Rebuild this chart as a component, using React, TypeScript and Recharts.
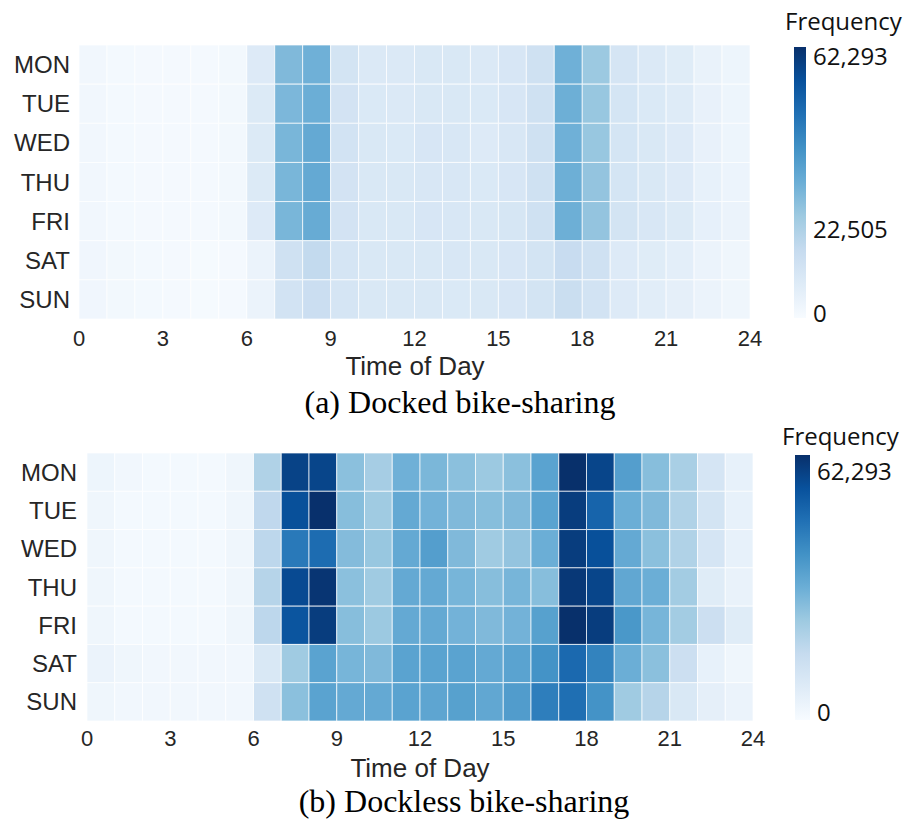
import React from "react";
import {
  ScatterChart,
  XAxis,
  YAxis,
  ReferenceArea,
  BarChart,
  Bar,
} from "recharts";

// rows top to bottom
const DAYS = ["MON", "TUE", "WED", "THU", "FRI", "SAT", "SUN"];
const HOUR_TICKS = [0, 3, 6, 9, 12, 15, 18, 21, 24];
const V_MAX = 62293;

// trips per hour (0..23), docked bike-sharing
const docked: number[][] = [
  [1900, 1200, 900, 900, 900, 1600, 8100, 28000, 30500, 11200, 8700, 8700, 9300, 9300, 8700, 10000, 12500, 30500, 23700, 10600, 8700, 7500, 4400, 3100],
  [1800, 1200, 900, 900, 900, 1600, 8300, 28600, 31200, 11500, 9000, 8700, 9300, 9300, 9000, 10000, 12800, 30800, 24300, 10900, 9000, 7800, 4700, 3100],
  [1800, 1200, 900, 900, 900, 1600, 8300, 29000, 32400, 11800, 9300, 9000, 10000, 9600, 8100, 9600, 12800, 30500, 24300, 10900, 9300, 8100, 4700, 3100],
  [1800, 1200, 900, 900, 900, 1600, 8300, 29000, 32400, 11500, 9300, 9300, 9600, 9600, 9000, 10000, 12500, 30800, 24900, 10900, 9300, 8100, 5000, 3400],
  [1900, 1200, 900, 900, 900, 1600, 8100, 29000, 32000, 11500, 9300, 9300, 10000, 9600, 9300, 10300, 12800, 30800, 24900, 11200, 9600, 8400, 5300, 3700],
  [2200, 1600, 1200, 900, 600, 900, 3700, 12500, 16200, 10600, 9300, 9300, 9300, 9600, 9300, 10000, 11200, 15000, 12500, 8100, 7500, 6200, 3700, 2500],
  [2200, 1600, 1200, 900, 600, 900, 3700, 11800, 14000, 10600, 9300, 9300, 9300, 9000, 9300, 10000, 11200, 14300, 11800, 8100, 6900, 5600, 3700, 2500],
];

// trips per hour (0..23), dockless bike-sharing
const dockless: number[][] = [
  [3100, 1900, 1200, 1200, 1200, 2500, 19900, 57900, 57300, 26200, 21800, 30500, 28700, 26200, 23700, 26200, 34300, 62293, 57300, 35500, 26800, 21200, 10600, 5000],
  [2500, 1200, 1200, 1200, 1200, 2500, 16800, 54800, 62200, 26800, 23000, 32400, 29900, 28000, 26800, 28000, 34300, 59200, 49800, 31100, 28000, 19900, 11200, 5000],
  [2500, 1200, 1200, 1200, 1200, 2500, 17400, 44900, 48000, 27400, 24300, 32400, 35500, 28000, 23000, 24900, 31100, 59200, 54800, 32400, 26200, 19900, 10600, 5000],
  [2500, 1200, 1200, 1200, 1200, 2500, 18700, 56100, 61000, 26200, 23000, 32400, 32400, 29300, 26800, 29300, 26800, 60400, 57300, 33000, 31100, 22400, 7500, 4400],
  [2500, 1200, 1200, 1200, 1200, 2500, 17400, 53600, 59200, 26800, 23700, 32400, 32400, 29900, 28000, 29900, 34900, 62293, 59200, 37400, 29300, 22400, 13700, 7500],
  [3700, 2500, 1900, 1900, 1900, 1900, 9300, 23000, 34300, 29300, 28000, 34300, 34300, 34300, 32400, 34300, 38600, 48600, 42400, 31100, 26200, 13700, 5000, 2500],
  [2500, 1900, 1900, 1900, 1900, 1900, 12500, 26200, 34300, 32400, 32400, 34300, 33600, 34900, 33000, 36100, 43600, 47300, 38600, 23000, 18700, 9300, 5600, 3700],
];

const topBarTicks = [0, 22505, V_MAX];
const bottomBarTicks = [0, V_MAX];

// matplotlib "Blues"
const BLUES = ["#f7fbff", "#deebf7", "#c6dbef", "#9ecae1", "#6baed6", "#4292c6", "#2171b5", "#08519c", "#08306b"];

function hexToRgb(h: string) {
  return [1, 3, 5].map((i) => parseInt(h.slice(i, i + 2), 16));
}

function blues(v: number) {
  const t = Math.max(0, Math.min(1, v / V_MAX)) * (BLUES.length - 1);
  const i = Math.min(BLUES.length - 2, Math.floor(t));
  const f = t - i;
  const a = hexToRgb(BLUES[i]);
  const b = hexToRgb(BLUES[i + 1]);
  const c = a.map((x, k) => Math.round(x + (b[k] - x) * f));
  return `rgb(${c[0]},${c[1]},${c[2]})`;
}

const SANS = "'Liberation Sans', Arial, sans-serif";
const CB_FONT = "'Open Sans', sans-serif";
const PAD = 20; // room for colorbar labels above/below the bar

function Heatmap({ rows, width, height, margin, yWidth, yGap, xGap }: any) {
  return (
    <ScatterChart width={width} height={height} margin={margin}>
      <XAxis
        type="number"
        dataKey="h"
        domain={[0, 24]}
        ticks={HOUR_TICKS}
        interval={0}
        allowDataOverflow
        axisLine={false}
        tickLine={false}
        tickSize={0}
        tickMargin={xGap}
        height={41}
        tick={{ fontSize: 22, fill: "#262626", fontFamily: SANS }}
      />
      <YAxis
        type="number"
        dataKey="r"
        domain={[0, 7]}
        reversed
        ticks={DAYS.map((_, i) => i + 0.5)}
        interval={0}
        allowDataOverflow
        tickFormatter={(v: number) => DAYS[Math.floor(v)]}
        axisLine={false}
        tickLine={false}
        tickSize={0}
        tickMargin={yGap}
        width={yWidth}
        tick={{ fontSize: 24, fill: "#262626", fontFamily: SANS }}
      />
      {rows.map((row: number[], r: number) =>
        row.map((v, h) => (
          <ReferenceArea
            key={`${r}-${h}`}
            x1={h}
            x2={h + 1}
            y1={r}
            y2={r + 1}
            fill={blues(v)}
            fillOpacity={1}
            stroke="#ffffff"
            strokeOpacity={0.7}
            strokeWidth={1}
          />
        ))
      )}
    </ScatterChart>
  );
}

function ColorBar({ id, width, height, ticks, offsets }: any) {
  const CbTick = ({ x, y, payload }: any) => (
    <text
      x={x}
      y={y + (payload.value === 0 ? offsets[0] : offsets[1])}
      dominantBaseline="central"
      textAnchor="start"
      fontSize={24}
      fontFamily={CB_FONT}
      fill="#111"
    >
      {payload.value.toLocaleString("en-US")}
    </text>
  );
  return (
    <BarChart
      width={width + 118}
      height={height + 2 * PAD}
      data={[{ name: "f", value: V_MAX }]}
      margin={{ top: PAD, right: 0, bottom: PAD, left: 0 }}
      barCategoryGap={0}
    >
      <defs>
        <linearGradient id={id} x1="0" y1="1" x2="0" y2="0">
          {BLUES.map((c, i) => (
            <stop key={i} offset={`${(i / (BLUES.length - 1)) * 100}%`} stopColor={c} />
          ))}
        </linearGradient>
      </defs>
      <XAxis dataKey="name" hide />
      <YAxis
        orientation="right"
        domain={[0, V_MAX]}
        ticks={ticks}
        interval={0}
        width={118}
        axisLine={false}
        tickLine={false}
        tickSize={0}
        tickMargin={7}
        tick={<CbTick />}
      />
      <Bar dataKey="value" fill={`url(#${id})`} isAnimationActive={false} />
    </BarChart>
  );
}

export default function App() {
  return (
    <div
      style={{
        position: "absolute",
        left: 0,
        top: 0,
        width: 922,
        height: 819,
        background: "#fff",
        overflow: "hidden",
      }}
    >
      <div style={{ position: "absolute", left: 0, top: 0 }}>
        <Heatmap
          rows={docked}
          width={780}
          height={360}
          margin={{ top: 45, right: 30, bottom: 0, left: 0 }}
          yWidth={79}
          yGap={9}
          xGap={11}
        />
      </div>
      <div style={{ position: "absolute", left: 0, top: 410 }}>
        <Heatmap
          rows={dockless}
          width={780}
          height={352}
          margin={{ top: 43, right: 27, bottom: 0, left: 0 }}
          yWidth={87}
          yGap={10}
          xGap={9}
        />
      </div>
      <div style={{ position: "absolute", left: 794, top: 47 - PAD }}>
        <ColorBar id="cbTop" width={12} height={271} ticks={topBarTicks} offsets={[-6, 8]} />
      </div>
      <div style={{ position: "absolute", left: 795, top: 455 - PAD }}>
        <ColorBar id="cbBottom" width={15} height={265} ticks={bottomBarTicks} offsets={[-9, 15]} />
      </div>
      <svg
        width={922}
        height={819}
        style={{ position: "absolute", left: 0, top: 0, pointerEvents: "none" }}
      >
        <text x={415} y={375} textAnchor="middle" fontSize={26} fontFamily={SANS} fill="#262626">
          Time of Day
        </text>
        <text x={460} y={413} textAnchor="middle" fontSize={32} fontFamily="'Liberation Serif', 'Times New Roman', serif" fill="#000">
          (a) Docked bike-sharing
        </text>
        <text x={420} y={777} textAnchor="middle" fontSize={26} fontFamily={SANS} fill="#262626">
          Time of Day
        </text>
        <text x={464} y={812} textAnchor="middle" fontSize={32} fontFamily="'Liberation Serif', 'Times New Roman', serif" fill="#000">
          (b) Dockless bike-sharing
        </text>
        <text x={785} y={30} fontSize={24} fontFamily={CB_FONT} fill="#111">
          Frequency
        </text>
        <text x={782} y={445} fontSize={24} fontFamily={CB_FONT} fill="#111">
          Frequency
        </text>
      </svg>
    </div>
  );
}
